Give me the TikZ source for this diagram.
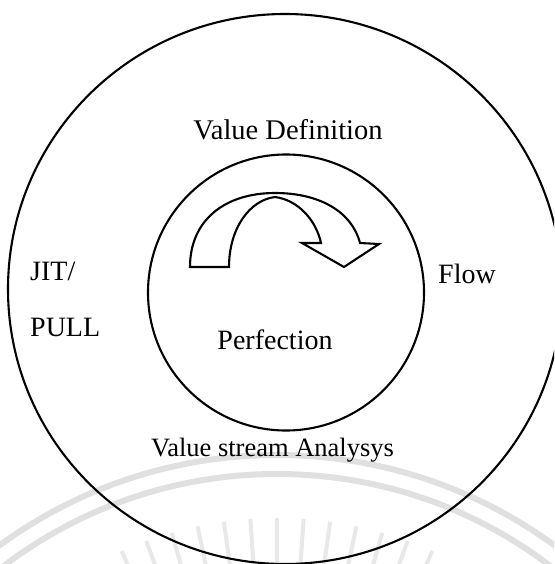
\documentclass[tikz,border=0pt]{standalone}
\usepackage{fontspec}
\setmainfont{Liberation Serif}
\begin{document}
\begin{tikzpicture}[x=1pt,y=-1pt,
  ring/.style={draw=black,line width=2.1pt},
  wmark/.style={draw=black!12,line width=6pt},
  ray/.style={draw=black!9,line width=4pt},
  lbl/.style={inner sep=0pt,anchor=base,font=\fontsize{28}{30}\selectfont},
  lblw/.style={lbl,anchor=base west},
  curvedarrow/.style={draw=black,fill=white,line width=2.1pt,line join=miter}]
\useasboundingbox (0,0) rectangle (554,564);
\begin{scope}
\clip (0,0) rectangle (554,564);
% faint seal in the lower part
\begin{scope}
\clip (0,440) rectangle (554,564);
\draw[wmark] (277,926) circle[radius=471pt];
\draw[wmark] (277,926) circle[radius=452pt];
\foreach \t in {-24,-20,...,24}
  \draw[ray] ({277+382*sin(\t)},{900-382*cos(\t)}) -- ({277+330*sin(\t)},{900-330*cos(\t)});
\end{scope}
% the two rings
\draw[ring] (285,289) ellipse[x radius=277pt,y radius=275pt];
\draw[ring] (286,292.5) circle[radius=138pt];
\end{scope}
% curved arrow in the middle
\draw[curvedarrow] (190,267) .. controls (190,220) and (225,193) .. (275,193)
  .. controls (320,193) and (352,212) .. (360,243)
  -- (379,244) -- (344,267) -- (302,243) -- (321,243)
  .. controls (316,220) and (298,200) .. (275,197)
  .. controls (250,200) and (229,228) .. (229,267) -- cycle;
% labels
\node[lbl,font=\fontsize{28.5}{30}\selectfont] (valdef) at (288,140) {Value Definition};
\node[lblw] (jit) at (30,280) {JIT/};
\node[lblw] (pull) at (30,336) {PULL};
\node[lblw] (flow) at (438,283) {Flow};
\node[lbl] (perf) at (275,349) {Perfection};
\node[lbl,font=\fontsize{26.5}{30}\selectfont] (vsa) at (272.5,456) {Value stream Analysys};
\end{tikzpicture}
\end{document}
